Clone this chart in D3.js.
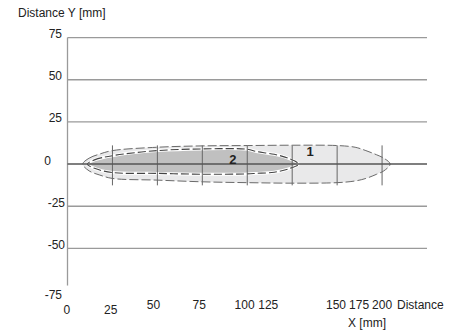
<!DOCTYPE html>
<html>
<head>
<meta charset="utf-8">
<script src="https://cdn.jsdelivr.net/npm/d3@7"></script>
<style>
  body { margin: 0; background: #fff; }
  text { font-family: "Liberation Sans", Arial, sans-serif; fill: #222; }
</style>
</head>
<body>
<svg id="chart" width="460" height="335"></svg>
<script>
// y grid values (mm)
const yTicks = [75, 50, 25, 0, -25, -50, -75];
// x tick values (mm) where the short vertical markers sit
const xMarks = [25, 50, 75, 100, 125, 150, 175];
const xLabels = ["0", "25", "50", "75", "100", "125", "150", "175", "200"];

// zone 1 (light) outline, mm
const zone1X = [8.5, 12, 18, 25, 50, 75, 100, 125, 150, 160, 166, 172, 176, 179.5];
const zone1Top = [0, 3.5, 6, 8, 10, 10.8, 11, 11.2, 11, 10, 8, 5.5, 3.5, 0];
const zone1Bottom = [0, -4, -6.5, -8.5, -9.5, -10.5, -11, -11.3, -11, -10, -8.5, -6, -4, 0];

// zone 2 (dark) outline, mm
const zone2X = [11, 15, 25, 50, 75, 100, 105, 115, 123, 128.5];
const zone2Top = [0, 2.5, 5, 8, 9, 8.8, 7.5, 5.8, 3.4, 0];
const zone2Bottom = [0, -2.5, -5, -5.5, -6, -5.8, -5.5, -4.8, -2.8, 0];

const svg = d3.select("#chart");

const x = d3.scaleLinear().domain([0, 200]).range([67.5, 427]);
const y = d3.scaleLinear().domain([75, -75]).range([37.6, 290.6]);

// outline -> closed polygon points (top left->right, bottom right->left)
function outline(xs, top, bottom) {
	const pts = xs.map((v, i) => [x(v), y(top[i])]);
	for (let i = xs.length - 2; i > 0; i--) pts.push([x(xs[i]), y(bottom[i])]);
	return pts;
}
const shape = d3.line().curve(d3.curveCatmullRomClosed.alpha(0.5));

//grid lines (no line at -75)
svg.append("g")
	.selectAll("line")
	.data(yTicks.filter(d => d !== -75 && d !== 0))
	.join("line")
	.attr("x1", x(0))
	.attr("x2", x(200))
	.attr("y1", d => y(d))
	.attr("y2", d => y(d))
	.attr("stroke", "#9a9a9a")
	.attr("stroke-width", 1.3);

//y axis
svg.append("line")
	.attr("x1", x(0)).attr("x2", x(0))
	.attr("y1", y(75)).attr("y2", y(-72))
	.attr("stroke", "#9a9a9a")
	.attr("stroke-width", 1.3);

//zone 1
svg.append("path")
	.attr("d", shape(outline(zone1X, zone1Top, zone1Bottom)))
	.attr("fill", "#e9e9ea")
	.attr("stroke", "#6a6a6a")
	.attr("stroke-width", 1)
	.attr("stroke-dasharray", "9,3");

//zone 2 with white halo
const z2 = shape(outline(zone2X, zone2Top, zone2Bottom));
svg.append("path")
	.attr("d", z2)
	.attr("fill", "#c0c0c0")
	.attr("stroke", "#fff")
	.attr("stroke-width", 3);
svg.append("path")
	.attr("d", z2)
	.attr("fill", "none")
	.attr("stroke", "#444")
	.attr("stroke-width", 1.1)
	.attr("stroke-dasharray", "8,3");

//vertical markers
svg.append("g")
	.selectAll("line")
	.data(xMarks)
	.join("line")
	.attr("x1", d => x(d))
	.attr("x2", d => x(d))
	.attr("y1", y(11.1))
	.attr("y2", y(-12.6))
	.attr("stroke", "#666")
	.attr("stroke-width", 1);

//zero line
svg.append("line")
	.attr("x1", x(0)).attr("x2", x(200))
	.attr("y1", y(0)).attr("y2", y(0))
	.attr("stroke", "#555")
	.attr("stroke-width", 1.5);

//zone labels
svg.append("text")
	.attr("x", x(92)).attr("y", y(0) - 0.5)
	.attr("text-anchor", "middle")
	.attr("font-size", 13).attr("font-weight", "bold")
	.text("2");
svg.append("text")
	.attr("x", x(135)).attr("y", y(5))
	.attr("text-anchor", "middle")
	.attr("font-size", 13).attr("font-weight", "bold")
	.text("1");

//y tick labels
const yLabelX = [62, 62, 62, 51, 65, 65, 62];
svg.append("g")
	.selectAll("text")
	.data(yTicks)
	.join("text")
	.attr("x", (d, i) => yLabelX[i])
	.attr("y", d => d === -75 ? y(d) + 8 : y(d) + 0.5)
	.attr("text-anchor", "end")
	.attr("font-size", 12)
	.text(d => d);

//x tick labels (crowded, as in the original print)
const xLabelAt = [-0.3, 24, 47.8, 73.3, 98.5, 111.7, 149.4, 162.2, 175];
const xLabelBase = [314, 314, 309, 309, 309, 309, 309, 309, 309];
svg.append("g")
	.selectAll("text")
	.data(xLabels)
	.join("text")
	.attr("x", (d, i) => x(xLabelAt[i]))
	.attr("y", (d, i) => xLabelBase[i])
	.attr("text-anchor", "middle")
	.attr("font-size", 12)
	.text(d => d);

//axis titles
svg.append("text")
	.attr("x", 18).attr("y", 17)
	.attr("font-size", 12)
	.text("Distance Y [mm]");
svg.append("text")
	.attr("x", 397).attr("y", 309)
	.attr("font-size", 12)
	.text("Distance");
svg.append("text")
	.attr("x", 348).attr("y", 327)
	.attr("font-size", 12)
	.text("X [mm]");
</script>
</body>
</html>
